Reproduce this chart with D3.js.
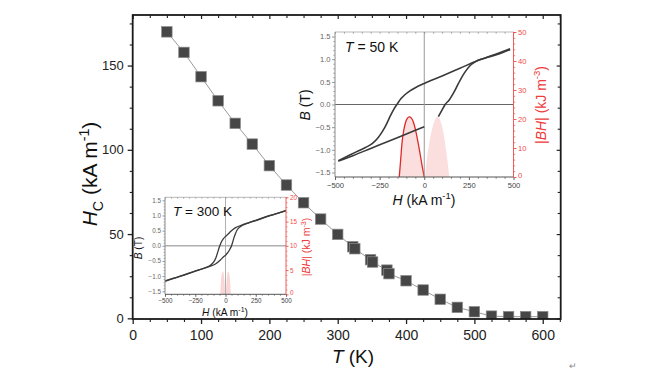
<!DOCTYPE html>
<html><head><meta charset="utf-8">
<script src="https://cdn.jsdelivr.net/npm/d3@7"></script>
<style>body{margin:0;background:#fff}svg{display:block}text{font-family:"Liberation Sans",Arial,sans-serif}</style>
</head><body><svg id="c" width="651" height="385"></svg>
<script>
// ---- main chart data ----
const temps = [50,75,100,125,150,175,200,225,250,275,300,322,325,348,351,372,375,400,425,450,475,500,525,550,575,600];
const hc    = [170,157.8,143.4,129.1,115.7,103.4,90.6,79.1,68.6,58.9,49.8,42.5,41.3,34.8,33.4,28.6,26.5,22.3,16.8,11.3,6.5,3.9,1.3,1.0,1.0,1.0];
const xTickLabels = [0,100,200,300,400,500,600];
const yTickLabels = [0,50,100,150];

// ---- inset T = 50 K ----
const loop50Upper = [[-481,-1.24],[-420,-1.12],[-378,-1.04],[-330,-0.95],[-290,-0.86],[-260,-0.74],[-235,-0.6],[-210,-0.42],[-190,-0.25],[-170,-0.1],[-150,0.02],[-130,0.13],[-110,0.21],[-80,0.3],[-50,0.37],[-20,0.43],[0,0.465],[100,0.63],[200,0.8],[300,0.97],[400,1.11],[481,1.23]];
const loop50LowerLeft = [[-481,-1.25],[-400,-1.13],[-300,-0.97],[-200,-0.81],[-100,-0.65],[0,-0.49]];
const loop50LowerRight = [[79,-0.27],[100,-0.12],[117,0.0],[140,0.1],[165,0.26],[191,0.46],[210,0.6],[229,0.72],[255,0.85],[285,0.94],[320,1.0],[351,1.035],[400,1.095],[440,1.15],[481,1.21]];
const bh50Left = [[-140,0],[-132,6],[-125,11.5],[-115,16],[-105,18.8],[-95,20.2],[-84,20.7],[-72,20.3],[-60,18.8],[-48,16],[-35,12],[-22,7.5],[-10,3.2],[0,0]];
const bh50Right = [[3,0],[12,5],[25,10.5],[40,15.5],[55,19],[73,20.8],[90,19.5],[105,16],[118,11],[130,5.5],[140,0]];

// ---- inset T = 300 K ----
const loop300Upper = [[-500,-1.17],[-440,-1.09],[-375,-1.01],[-300,-0.91],[-236,-0.82],[-180,-0.74],[-125,-0.64],[-97,-0.53],[-80,-0.4],[-69,-0.27],[-58,-0.13],[-47,0],[-35,0.12],[-20,0.22],[0,0.31],[20,0.38],[42,0.47],[80,0.59],[125,0.67],[190,0.76],[264,0.85],[350,0.97],[430,1.07],[500,1.16]];
const loop300Lower = [[-500,-1.16],[-430,-1.07],[-350,-0.97],[-264,-0.85],[-190,-0.76],[-125,-0.67],[-80,-0.59],[-42,-0.47],[-20,-0.38],[0,-0.31],[20,-0.22],[35,-0.12],[50,0],[60,0.13],[70,0.27],[82,0.4],[97,0.53],[125,0.64],[180,0.74],[236,0.82],[300,0.91],[375,1.01],[440,1.09],[500,1.17]];
const bh300Left = [[-44,0],[-38,2.6],[-30,4.3],[-21,4.7],[-13,3.9],[-7,2.1],[-3,0]];
const bh300Right = [[3,0],[7,2.1],[13,3.9],[21,4.7],[30,4.3],[38,2.6],[44,0]];

const svg = d3.select('#c');
const FONT = '"Liberation Sans",Arial,sans-serif';

function rich(text, parts, fs) {
  let shift = 0;
  parts.forEach(p => {
    const ts = text.append('tspan').text(p.t);
    const target = p.sub ? fs*0.3 : (p.sup ? -fs*0.38 : 0);
    const dy = target - shift;
    if (dy !== 0) ts.attr('dy', dy);
    shift = target;
    if (p.sub || p.sup) ts.attr('font-size', fs*0.68);
    if (p.it) ts.attr('font-style', 'italic');
  });
}

// ---------------- main chart ----------------
const X0 = 132.7, X1 = 560.7, Y0 = 319, Y1 = 15;
const x = d3.scaleLinear().domain([0, 626.3]).range([X0, X1]);
const y = d3.scaleLinear().domain([-0.4, 180]).range([Y0, Y1]);

svg.append('clipPath').attr('id','mclip').append('rect')
  .attr('x', X0).attr('y', Y1).attr('width', X1-X0).attr('height', Y0-Y1);

const pts = temps.map((t,i) => [t, hc[i]]);
const gData = svg.append('g').attr('clip-path','url(#mclip)');
gData.append('path').datum(pts)
  .attr('d', d3.line().x(d=>x(d[0])).y(d=>y(d[1])))
  .attr('fill','none').attr('stroke','#9a9a9a').attr('stroke-width',1);
const S = 10.5;
gData.selectAll('rect.pt').data(pts).join('rect').attr('class','pt')
  .attr('x', d=>x(d[0])-S/2).attr('y', d=>y(d[1])-S/2)
  .attr('width', S).attr('height', S)
  .attr('fill','#464646').attr('stroke','#8c8c8c').attr('stroke-width',0.7);

function styleAxis(g, color, sw) {
  g.select('.domain').remove();
  g.selectAll('line').attr('stroke', color).attr('stroke-width', sw);
  g.selectAll('text').attr('font-family', FONT);
}
const majorsX = xTickLabels, majorsY = yTickLabels;
const minorX = d3.range(0, 626, 25).filter(v => !majorsX.includes(v));
const minorY = d3.range(0, 180, 12.5).filter(v => !majorsY.includes(v));

// left
let g = svg.append('g').attr('transform',`translate(${X0},0)`)
  .call(d3.axisLeft(y).tickValues(majorsY).tickSize(5).tickPadding(4).tickFormat(d3.format('d')));
styleAxis(g,'#222',1.3); g.selectAll('text').attr('font-size',13).attr('fill','#222');
g = svg.append('g').attr('transform',`translate(${X0},0)`)
  .call(d3.axisLeft(y).tickValues(minorY).tickSize(3).tickFormat(''));
styleAxis(g,'#222',1.1);
// bottom
g = svg.append('g').attr('transform',`translate(0,${Y0})`)
  .call(d3.axisBottom(x).tickValues(majorsX).tickSize(5).tickPadding(6).tickFormat(d3.format('d')));
styleAxis(g,'#222',1.3); g.selectAll('text').attr('font-size',14).attr('fill','#222');
g = svg.append('g').attr('transform',`translate(0,${Y0})`)
  .call(d3.axisBottom(x).tickValues(minorX).tickSize(3).tickFormat(''));
styleAxis(g,'#222',1.1);
// top (inward)
g = svg.append('g').attr('transform',`translate(0,${Y1})`)
  .call(d3.axisBottom(x).tickValues(majorsX).tickSize(4).tickFormat(''));
styleAxis(g,'#222',1.2);
g = svg.append('g').attr('transform',`translate(0,${Y1})`)
  .call(d3.axisBottom(x).tickValues(minorX).tickSize(3).tickFormat(''));
styleAxis(g,'#222',1.1);
// right (inward)
g = svg.append('g').attr('transform',`translate(${X1},0)`)
  .call(d3.axisLeft(y).tickValues(majorsY).tickSize(4).tickFormat(''));
styleAxis(g,'#222',1.2);
g = svg.append('g').attr('transform',`translate(${X1},0)`)
  .call(d3.axisLeft(y).tickValues(minorY).tickSize(3).tickFormat(''));
styleAxis(g,'#222',1.1);

svg.append('rect').attr('x',X0).attr('y',Y1).attr('width',X1-X0).attr('height',Y0-Y1)
  .attr('fill','none').attr('stroke','#1a1a1a').attr('stroke-width',1.8);

// titles
let t = svg.append('text').attr('x', 353).attr('y', 363).attr('text-anchor','middle')
  .attr('font-size',19).attr('fill','#111');
rich(t, [{t:'T',it:true},{t:' (K)'}], 19);
t = svg.append('text').attr('transform','translate(97,174) rotate(-90)').attr('text-anchor','middle')
  .attr('font-size',21).attr('fill','#111');
rich(t, [{t:'H',it:true},{t:'C',sub:true},{t:' (kA m'},{t:'-1',sup:true},{t:')'}], 21);

svg.append('text').attr('x',569).attr('y',369).attr('font-size',9).attr('fill','#888').text('\u21B5');

// ---------------- insets ----------------
function drawInset(cfg) {
  const gi = svg.append('g');
  const xs = d3.scaleLinear().domain([-500,500]).range(cfg.xr);
  const ys = d3.scaleLinear().domain([-1.6,1.6]).range(cfg.yr);
  const rs = d3.scaleLinear().domain(cfg.rDom).range(cfg.yr);
  const [xa, xb] = cfg.xr, [yb, ya] = cfg.yr;
  gi.append('rect').attr('x',xa).attr('y',ya).attr('width',xb-xa).attr('height',yb-ya).attr('fill','#fff');

  const area = d3.area().curve(d3.curveMonotoneX).x(d=>xs(d[0])).y0(rs(0)).y1(d=>rs(d[1]));
  cfg.bh.forEach(a => gi.append('path').datum(a).attr('d', area).attr('fill', cfg.pink));
  if (cfg.bhLine) gi.append('path').datum(cfg.bhLine)
    .attr('d', d3.line().curve(d3.curveMonotoneX).x(d=>xs(d[0])).y(d=>rs(d[1])))
    .attr('fill','none').attr('stroke','#e02828').attr('stroke-width',1.3);

  gi.append('line').attr('x1',xa).attr('x2',xb).attr('y1',ys(0)).attr('y2',ys(0))
    .attr('stroke',cfg.hzColor).attr('stroke-width',cfg.hzW);
  gi.append('line').attr('x1',xs(0)).attr('x2',xs(0)).attr('y1',ya).attr('y2',yb)
    .attr('stroke',cfg.vzColor).attr('stroke-width',1);

  const ln = d3.line().curve(d3.curveMonotoneX).x(d=>xs(d[0])).y(d=>ys(d[1]));
  cfg.loops.forEach(a => gi.append('path').datum(a).attr('d', ln)
    .attr('fill','none').attr('stroke','#3a3a3a').attr('stroke-width',cfg.loopW));

  const tf = cfg.tickFont, L = cfg.tickLen, m = cfg.minorLen;
  const axCol = '#8a8a8a', red = '#f04a4a';
  const bMaj = [-1.5,-1,-0.5,0,0.5,1,1.5];
  const bMin = d3.range(-1.5,1.55,0.1).map(v=>+v.toFixed(2)).filter(v=>!bMaj.includes(v));
  const hMaj = [-500,-250,0,250,500];
  const hMin = d3.range(-500,501,50).filter(v=>!hMaj.includes(v));
  const rMaj = d3.range(cfg.rDom[0], cfg.rDom[1]+0.01, cfg.rStep);
  const rMin = d3.range(cfg.rDom[0], cfg.rDom[1]+0.01, cfg.rMinor).filter(v=>!rMaj.includes(v));

  let a;
  a = gi.append('g').attr('transform',`translate(${xa},0)`)
    .call(d3.axisLeft(ys).tickValues(bMaj).tickSize(L).tickPadding(1.5).tickFormat(d3.format('.1f')));
  styleAxis(a, axCol, 0.9); a.selectAll('text').attr('font-size',tf).attr('fill','#666');
  a = gi.append('g').attr('transform',`translate(${xa},0)`)
    .call(d3.axisLeft(ys).tickValues(bMin).tickSize(m).tickFormat(''));
  styleAxis(a, axCol, 0.7);
  a = gi.append('g').attr('transform',`translate(0,${yb})`)
    .call(d3.axisBottom(xs).tickValues(hMaj).tickSize(L).tickPadding(cfg.bPad).tickFormat(d3.format('d')));
  styleAxis(a, '#555', 0.9); a.selectAll('text').attr('font-size',tf).attr('fill','#444');
  a = gi.append('g').attr('transform',`translate(0,${yb})`)
    .call(d3.axisBottom(xs).tickValues(hMin).tickSize(m).tickFormat(''));
  styleAxis(a, '#555', 0.7);
  a = gi.append('g').attr('transform',`translate(0,${ya})`)
    .call(d3.axisBottom(xs).tickValues(hMaj.concat(hMin)).tickSize(m).tickFormat(''));
  styleAxis(a, axCol, 0.7);
  a = gi.append('g').attr('transform',`translate(${xb},0)`)
    .call(d3.axisRight(rs).tickValues(rMaj).tickSize(L).tickPadding(1.5).tickFormat(d3.format('d')));
  styleAxis(a, red, 0.9); a.selectAll('text').attr('font-size',tf).attr('fill',red);
  a.selectAll('.tick').filter(d => d === cfg.rDom[0]).select('text').attr('dy','0.1em');
  a = gi.append('g').attr('transform',`translate(${xb},0)`)
    .call(d3.axisRight(rs).tickValues(rMin).tickSize(m).tickFormat(''));
  styleAxis(a, red, 0.7);

  gi.append('line').attr('x1',xa).attr('x2',xb).attr('y1',ya).attr('y2',ya).attr('stroke',axCol).attr('stroke-width',0.6);
  gi.append('line').attr('x1',xa).attr('x2',xa).attr('y1',ya).attr('y2',yb).attr('stroke',axCol).attr('stroke-width',1);
  gi.append('line').attr('x1',xa).attr('x2',xb).attr('y1',yb).attr('y2',yb).attr('stroke','#555').attr('stroke-width',1);
  gi.append('line').attr('x1',xb).attr('x2',xb).attr('y1',ya).attr('y2',yb).attr('stroke',red).attr('stroke-width',0.9);

  // labels
  let tt = gi.append('text').attr('x',cfg.tLabel[0]).attr('y',cfg.tLabel[1]).attr('font-size',cfg.tFont).attr('fill','#111');
  rich(tt, [{t:'T',it:true},{t:' = '+cfg.tText}], cfg.tFont);
  tt = gi.append('text').attr('transform',`translate(${cfg.bLabel[0]},${cfg.bLabel[1]}) rotate(-90)`)
    .attr('text-anchor','middle').attr('font-size',cfg.titleFont).attr('fill','#111');
  rich(tt, [{t:'B',it:true},{t:' (T)'}], cfg.titleFont);
  tt = gi.append('text').attr('x',cfg.hLabel[0]).attr('y',cfg.hLabel[1])
    .attr('text-anchor','middle').attr('font-size',cfg.titleFont).attr('fill','#111');
  rich(tt, [{t:'H',it:true},{t:' (kA m'},{t:'-1',sup:true},{t:')'}], cfg.titleFont);
  tt = gi.append('text').attr('transform',`translate(${cfg.rLabel[0]},${cfg.rLabel[1]}) rotate(-90)`)
    .attr('text-anchor','middle').attr('font-size',cfg.rFont).attr('fill','#ee3b3b');
  rich(tt, [{t:'|'},{t:'BH',it:true},{t:'|  (kJ m'},{t:'-3',sup:true},{t:')'}], cfg.rFont);
}

drawInset({
  xr:[335,513.5], yr:[177,32], rDom:[0,50], rStep:10, rMinor:2,
  tickFont:7.6, tickLen:3, minorLen:1.8, loopW:1.6, pink:'#fbdede', bPad:2.5,
  hzColor:'#666', hzW:1.2, vzColor:'#999',
  bh:[bh50Left, bh50Right], bhLine: bh50Left,
  loops:[loop50Upper, loop50LowerLeft, loop50LowerRight],
  tText:'50 K', tLabel:[345,52], tFont:14,
  titleFont:14, bLabel:[310,105], hLabel:[424,204.5],
  rFont:14, rLabel:[545.5,105]
});
drawInset({
  xr:[165,286], yr:[294.3,197.3], rDom:[0,20], rStep:5, rMinor:1,
  tickFont:6.3, tickLen:2.5, minorLen:1.4, loopW:1.3, pink:'#fbd6d6', bPad:1.5,
  hzColor:'#b0b0b0', hzW:1.4, vzColor:'#b0b0b0',
  bh:[bh300Left, bh300Right], bhLine:null,
  loops:[loop300Upper, loop300Lower],
  tText:'300 K', tLabel:[173,215.5], tFont:13.5,
  titleFont:10.2, bLabel:[142,248], hLabel:[225,315.5],
  rFont:10.5, rLabel:[310,247]
});
</script></body></html>
